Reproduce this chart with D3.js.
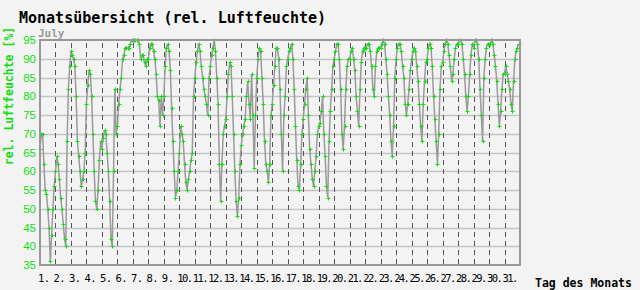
<!DOCTYPE html>
<html><head><meta charset="utf-8">
<script src="https://cdn.jsdelivr.net/npm/d3@7"></script>
<style>
html,body{margin:0;padding:0;background:#f3f3f3;}
svg{display:block;}
</style></head>
<body>
<svg id="chart" width="640" height="290"></svg>
<script>
// ---- data (rel. humidity %, two-hourly readings, 00:00 .. 22:00 per day) ----
const chartTitle = "Monatsübersicht (rel. Luftfeuchte)";
const monthName = "July";
const yLabel = "rel. Luftfeuchte [%]";
const xLabel = "Tag des Monats";
const readingsPerDay = 12;
const dayLabels = d3.range(1, 32).map(d => d + ".");
const yTicks = [35, 40, 45, 50, 55, 60, 65, 70, 75, 80, 85, 90, 95];
const humidity = [
  66, 70, 70, 62, 55, 54, 50, 45, 36, 43, 50, 56,
  60, 64, 62, 58, 53, 50, 46, 42, 40, 68, 82, 88,
  92, 91, 90, 88, 80, 68, 64, 60, 56, 58, 60, 65,
  78, 83, 87, 86, 80, 70, 60, 52, 50, 55, 63, 68,
  66, 69, 71, 70, 65, 60, 52, 42, 40, 60, 82, 70,
  72, 78, 82, 85, 90, 91, 93, 93, 93, 93, 94, 95,
  95, 95, 95, 95, 95, 94, 90, 91, 91, 89, 88, 90,
  90, 93, 94, 94, 92, 90, 86, 80, 79, 72, 80, 75,
  80, 88, 93, 94, 92, 87, 77, 68, 60, 53, 55, 60,
  65, 72, 70, 68, 62, 57, 55, 58, 60, 63, 65, 80,
  85, 89, 92, 94, 92, 88, 85, 82, 80, 78, 75, 85,
  88, 91, 93, 95, 92, 85, 78, 62, 52, 62, 70, 72,
  74, 80, 86, 89, 88, 80, 70, 60, 52, 48, 53, 62,
  67, 70, 72, 74, 80, 84, 78, 74, 86, 75, 61, 75,
  85, 90, 93, 92, 85, 78, 68, 62, 60, 57, 62, 75,
  78, 83, 88, 93, 93, 90, 82, 70, 60, 75, 80, 88,
  90, 92, 93, 94, 90, 82, 72, 63, 56, 55, 62, 70,
  74, 78, 82, 85, 75, 66, 62, 58, 56, 60, 64, 70,
  72, 73, 76, 80, 70, 64, 56, 53, 68, 76, 82, 88,
  90, 92, 94, 94, 90, 82, 70, 66, 72, 82, 88, 90,
  90, 92, 93, 90, 87, 80, 76, 72, 82, 89, 92, 93,
  93, 93, 94, 94, 92, 88, 82, 80, 88, 92, 93, 93,
  93, 94, 95, 94, 90, 86, 80, 75, 68, 64, 72, 85,
  90, 93, 94, 94, 92, 88, 85, 78, 75, 78, 82, 87,
  90, 92, 93, 92, 88, 84, 78, 72, 68, 78, 84, 89,
  90, 93, 94, 93, 88, 80, 74, 68, 62, 70, 82, 88,
  89, 92, 94, 95, 94, 91, 88, 84, 86, 90, 93, 94,
  94, 95, 95, 94, 90, 86, 80, 76, 80, 86, 91, 94,
  93, 95, 95, 94, 90, 82, 75, 68, 85, 90, 93, 94,
  94, 94, 95, 94, 91, 88, 84, 78, 72, 76, 82, 86,
  86, 88, 86, 84, 82, 78, 76, 84, 90, 92, 93, 94
];

// ---- layout ----
const svg = d3.select("#chart");
const L = 40, T = 40, R = 520, B = 265;
const x = d3.scaleLinear().domain([0, dayLabels.length]).range([L, R]);
const y = d3.scaleLinear().domain([35, 95]).range([B, T]);
const points = humidity.map((v, i) => ({ t: i / readingsPerDay, v }));

const mono = "'DejaVu Sans Mono', 'Liberation Mono', monospace";

svg.append("rect").attr("width", 640).attr("height", 290).attr("fill", "#f3f3f3");

// horizontal grid
svg.append("g").selectAll("line").data(yTicks.slice(1, -1)).join("line")
  .attr("x1", L).attr("x2", R)
  .attr("y1", d => Math.round(y(d)) + 0.5).attr("y2", d => Math.round(y(d)) + 0.5)
  .attr("stroke", "#c4c4c4").attr("stroke-width", 1.5);

// vertical dashed day lines
svg.append("g").selectAll("line").data(d3.range(1, dayLabels.length)).join("line")
  .attr("x1", d => Math.round(x(d)) + 0.5).attr("x2", d => Math.round(x(d)) + 0.5)
  .attr("y1", T).attr("y2", B)
  .attr("stroke", "#555").attr("stroke-width", 1)
  .attr("stroke-dasharray", "5,4").attr("stroke-dashoffset", -3);

// line
svg.append("path").datum(points)
  .attr("fill", "none").attr("stroke", "#9a9a9a").attr("stroke-width", 1.5)
  .attr("d", d3.line().x(d => x(d.t)).y(d => y(d.v)));

// markers
svg.append("g").selectAll("path").data(points).join("path")
  .attr("transform", d => `translate(${Math.round(x(d.t)) + 0.5},${Math.round(y(d.v)) + 0.5})`)
  .attr("d", "M-2,0H2M0,-2V2")
  .attr("stroke", "#11dd11").attr("stroke-width", 1).attr("fill", "none");

// frame
svg.append("rect").attr("x", L).attr("y", T).attr("width", R - L).attr("height", B - T)
  .attr("fill", "none").attr("stroke", "#999").attr("stroke-width", 2);

// y tick labels
svg.append("g").selectAll("text").data(yTicks).join("text")
  .attr("x", 36).attr("y", d => y(d)).attr("dy", "0.36em")
  .attr("text-anchor", "end")
  .attr("font-family", "'Liberation Sans', Arial, sans-serif").attr("font-size", 11.5)
  .attr("fill", "#11dd11").text(d => d);

// x tick labels
svg.append("g").selectAll("text").data(dayLabels).join("text")
  .attr("x", (d, i) => x(i) - 2).attr("y", 282)
  .attr("font-family", mono).attr("font-size", 10.5)
  .attr("letter-spacing", d => d.length > 2 ? -1.6 : -0.5)
  .attr("fill", "#000").text(d => d);

// titles
svg.append("text").attr("x", 19).attr("y", 22.5)
  .attr("font-family", mono).attr("font-size", 15).attr("font-weight", "bold")
  .attr("fill", "#000").text(chartTitle);
svg.append("text").attr("x", 38).attr("y", 37)
  .attr("font-family", mono).attr("font-size", 11).attr("font-weight", "bold")
  .attr("fill", "#999").text(monthName);
svg.append("text").attr("transform", "translate(13,96) rotate(-90)")
  .attr("text-anchor", "middle")
  .attr("font-family", mono).attr("font-size", 11.5).attr("font-weight", "bold")
  .attr("fill", "#11dd11").text(yLabel);
svg.append("text").attr("x", 535).attr("y", 286.5)
  .attr("font-family", mono).attr("font-size", 11.5).attr("font-weight", "bold")
  .attr("fill", "#000").text(xLabel);
</script>
</body></html>
